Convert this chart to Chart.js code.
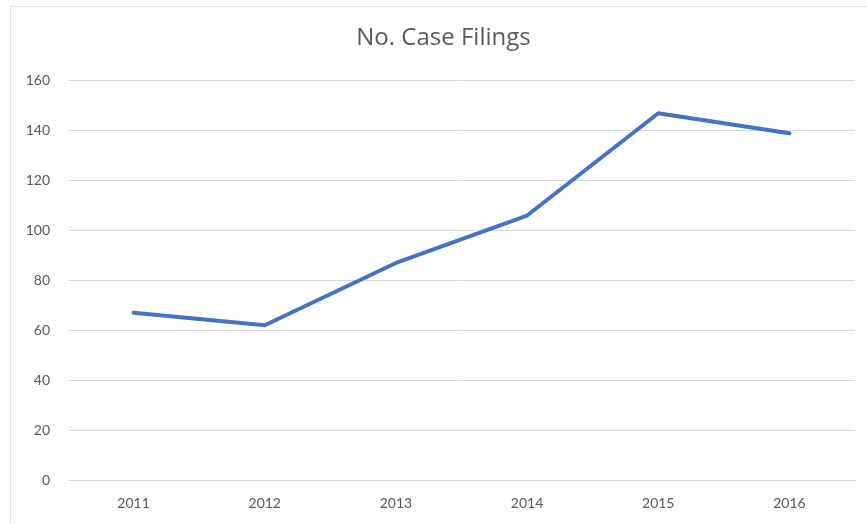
<!DOCTYPE html>
<html>
<head>
<meta charset="utf-8">
<script src="https://cdn.jsdelivr.net/npm/chart.js@4"></script>
<style>
  html, body { margin: 0; padding: 0; background: #ffffff; overflow: hidden; }
  #wrap { position: relative; width: 867px; height: 524px; overflow: hidden; }
  #frame { position: absolute; left: 10px; top: 6px; width: 900px; height: 600px; border: 1px solid #e0e0e0; }
  canvas { position: absolute; left: 0; top: 0; }
</style>
</head>
<body>
<div id="wrap">
  <div id="frame"></div>
  <canvas id="c" width="899" height="524"></canvas>
</div>
<script>
const years = ["2011", "2012", "2013", "2014", "2015", "2016"];
const filings = [67, 62, 87, 106, 147, 139];
const chartTitle = "No. Case Filings";

const textColor = "#595959";
const gridColor = "#d9d9d9";

new Chart(document.getElementById("c"), {
  type: "line",
  data: {
    labels: years,
    datasets: [{
      label: chartTitle,
      data: filings,
      borderColor: "#4472C4",
      borderWidth: 4,
      pointRadius: 0,
      pointHoverRadius: 0,
      tension: 0,
      fill: false,
      borderCapStyle: "round",
      borderJoinStyle: "round"
    }]
  },
  options: {
    responsive: false,
    animation: false,
    devicePixelRatio: 1,
    layout: { padding: { left: 0, right: 12, top: 0, bottom: 0 } },
    plugins: {
      legend: { display: false },
      tooltip: { enabled: false },
      title: {
        display: true,
        text: chartTitle,
        color: textColor,
        font: { family: "Open Sans", size: 24, weight: "normal" },
        padding: { top: 24, bottom: 28 }
      }
    },
    scales: {
      x: {
        offset: true,
        grid: { display: false, drawTicks: false },
        border: { display: true, color: gridColor, width: 1 },
        ticks: { color: textColor, font: { family: "Lato", size: 14 }, padding: 15, maxRotation: 0 },
        afterFit: (s) => { s.height = 44; }
      },
      y: {
        min: 0,
        max: 160,
        grid: { color: gridColor, lineWidth: 1, drawTicks: false },
        border: { display: false },
        ticks: { stepSize: 20, color: textColor, font: { family: "Lato", size: 14 }, padding: 18 },
        afterFit: (s) => { s.width = 68; }
      },
      y2: {
        position: "right",
        min: 0,
        max: 160,
        grid: { display: false, drawTicks: false },
        border: { display: false },
        ticks: { display: false },
        afterFit: (s) => { s.width = 32; }
      }
    }
  }
});
</script>
</body>
</html>
